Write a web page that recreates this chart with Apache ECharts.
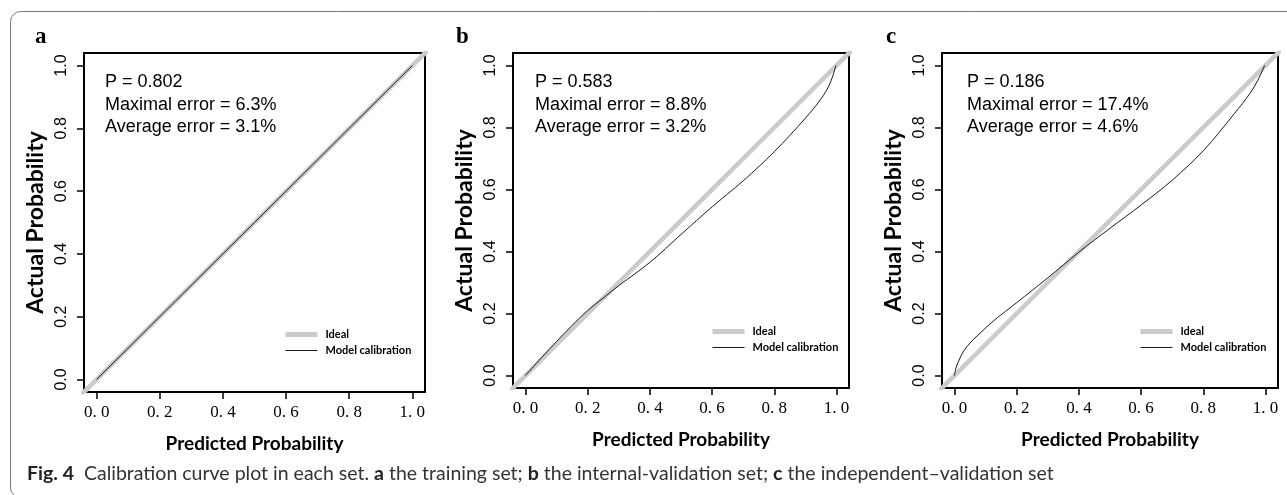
<!DOCTYPE html>
<html>
<head>
<meta charset="utf-8">
<script src="https://cdn.jsdelivr.net/npm/echarts@6/dist/echarts.min.js"></script>
<style>
  html, body { margin: 0; padding: 0; background: #fff; }
  #chart { width: 1287px; height: 495px; }
</style>
</head>
<body>
<div id="chart"></div>
<script>
// tick positions shared by all panels
const tickValues = [0, 0.2, 0.4, 0.6, 0.8, 1.0];

// ideal diagonal
const idealPredicted = [-0.05, 1.05];
const idealActual = [-0.05, 1.05];

// a: training set
const aPredicted = [0, 0.25, 0.5, 0.75, 1.0];
const aActual = [0, 0.25, 0.5, 0.75, 1.0];

// b: internal-validation set
const bPredicted = [0, 0.05, 0.1, 0.15, 0.2, 0.25, 0.3, 0.4, 0.5, 0.6, 0.7, 0.8, 0.9, 0.95, 0.978, 0.998];
const bActual = [0, 0.056, 0.11, 0.162, 0.21, 0.25, 0.29, 0.365, 0.455, 0.544, 0.628, 0.722, 0.83, 0.892, 0.94, 1.0];

// c: independent-validation set
const cPredicted = [0, 0.005, 0.015, 0.03, 0.05, 0.075, 0.13, 0.2, 0.3, 0.4, 0.5, 0.6, 0.7, 0.8, 0.9, 0.95, 0.975, 0.997];
const cActual = [0, 0.025, 0.05, 0.08, 0.105, 0.13, 0.18, 0.235, 0.315, 0.398, 0.475, 0.55, 0.63, 0.725, 0.845, 0.91, 0.952, 1.0];

const panelLabels = ['a', 'b', 'c'];
const statTexts = [
    'P = 0.802\nMaximal error = 6.3%\nAverage error = 3.1%',
    'P = 0.583\nMaximal error = 8.8%\nAverage error = 3.2%',
    'P = 0.186\nMaximal error = 17.4%\nAverage error = 4.6%'
];

const panels = [
    { grid: { left: 84, top: 53, width: 341, height: 339 }, x: aPredicted, y: aActual, label: [35, 26], stat: [105, 71], legend: [283, 329] },
    { grid: { left: 513, top: 53, width: 336, height: 335 }, x: bPredicted, y: bActual, label: [456, 26], stat: [535, 71], legend: [710, 326] },
    { grid: { left: 942, top: 53, width: 336, height: 335 }, x: cPredicted, y: cActual, label: [886, 26], stat: [967, 71], legend: [1138, 326] }
];

const chart = echarts.init(document.getElementById('chart'));

const zip = (xs, ys) => xs.map((v, i) => [v, ys[i]]);

const grids = [], xAxes = [], yAxes = [], series = [], titles = [], legends = [];

panels.forEach((p, i) => {
    grids.push(Object.assign({ show: true, borderColor: '#000', borderWidth: 2, backgroundColor: 'transparent' }, p.grid));

    xAxes.push({
        gridIndex: i, type: 'value', min: -0.04, max: 1.04,
        name: 'Predicted Probability', nameLocation: 'middle', nameGap: 42,
        nameTextStyle: { fontFamily: 'Lato', fontWeight: 'bold', fontSize: 19, color: '#000' },
        axisLine: { show: false, onZero: false },
        axisTick: { show: true, length: 7, customValues: tickValues, lineStyle: { color: '#000', width: 1.5 } },
        axisLabel: { customValues: tickValues, margin: 12, fontFamily: 'Liberation Serif', fontSize: 17, color: '#000',
            formatter: v => v.toFixed(1).replace('.', '. ') },
        splitLine: { show: false }
    });

    yAxes.push({
        gridIndex: i, type: 'value', min: -0.04, max: 1.04,
        name: 'Actual Probability', nameLocation: 'middle', nameGap: 37,
        nameTextStyle: { fontFamily: 'Lato', fontWeight: 'bold', fontSize: 23, color: '#000' },
        axisLine: { show: false, onZero: false },
        axisTick: { show: true, length: 7, customValues: tickValues, lineStyle: { color: '#000', width: 1.5 } },
        axisLabel: { customValues: tickValues, margin: 14, rotate: 90, fontFamily: 'Liberation Sans', fontSize: 16, color: '#000',
            formatter: v => v.toFixed(1) },
        splitLine: { show: false }
    });

    series.push({
        name: 'Ideal', type: 'line', xAxisIndex: i, yAxisIndex: i,
        data: zip(idealPredicted, idealActual), symbol: 'none', silent: true,
        itemStyle: { color: '#cbcbcb' },
        lineStyle: { color: '#cbcbcb', width: 4.5 }, z: 1
    });
    series.push({
        name: 'Model calibration', type: 'line', xAxisIndex: i, yAxisIndex: i,
        data: zip(p.x, p.y), symbol: 'none', smooth: i === 0 ? false : 0.35, silent: true,
        itemStyle: { color: '#1a1a1a' },
        lineStyle: { color: '#1a1a1a', width: 1 }, z: 2
    });

    titles.push({
        text: panelLabels[i], left: p.label[0], top: p.label[1], padding: 0,
        textStyle: { fontFamily: 'Liberation Serif', fontWeight: 'bold', fontSize: 23, color: '#000' }
    });
    titles.push({
        text: statTexts[i], left: p.stat[0], top: p.stat[1], padding: 0,
        textStyle: { fontFamily: 'Liberation Sans', fontWeight: 'normal', fontSize: 18, lineHeight: 22.5, color: '#000' }
    });

    legends.push({
        data: [
            { name: 'Ideal', lineStyle: { color: '#cbcbcb', width: 5 } },
            { name: 'Model calibration', lineStyle: { color: '#1a1a1a', width: 1 } }
        ],
        orient: 'vertical', left: p.legend[0], top: p.legend[1],
        itemWidth: 32, itemHeight: 12, itemGap: 5, padding: 0, selectedMode: false,
        itemStyle: { opacity: 0 },
        textStyle: { fontFamily: 'Lato', fontWeight: 'bold', fontSize: 11, color: '#000', padding: [0, 0, 0, 3] }
    });
});

titles.push({
    text: '{b|Fig. 4}  Calibration curve plot in each set. {b|a} the training set; {b|b} the internal-validation set; {b|c} the independent\u2013validation set',
    left: 27, top: 464, padding: 0,
    textStyle: {
        fontFamily: 'Lato', fontWeight: 'normal', fontSize: 19.5, color: '#333',
        rich: { b: { fontFamily: 'Lato', fontWeight: 'bold', fontSize: 19.5, color: '#222' } }
    }
});

chart.setOption({
    animation: false,
    backgroundColor: '#fff',
    title: titles,
    legend: legends,
    grid: grids,
    xAxis: xAxes,
    yAxis: yAxes,
    series: series,
    graphic: [{
        type: 'rect', silent: true,
        shape: { x: 10.5, y: 11.5, width: 1300, height: 486, r: 10 },
        style: { fill: 'none', stroke: '#777', lineWidth: 1 }
    }]
});

window.addEventListener('resize', () => chart.resize());
</script>
</body>
</html>
